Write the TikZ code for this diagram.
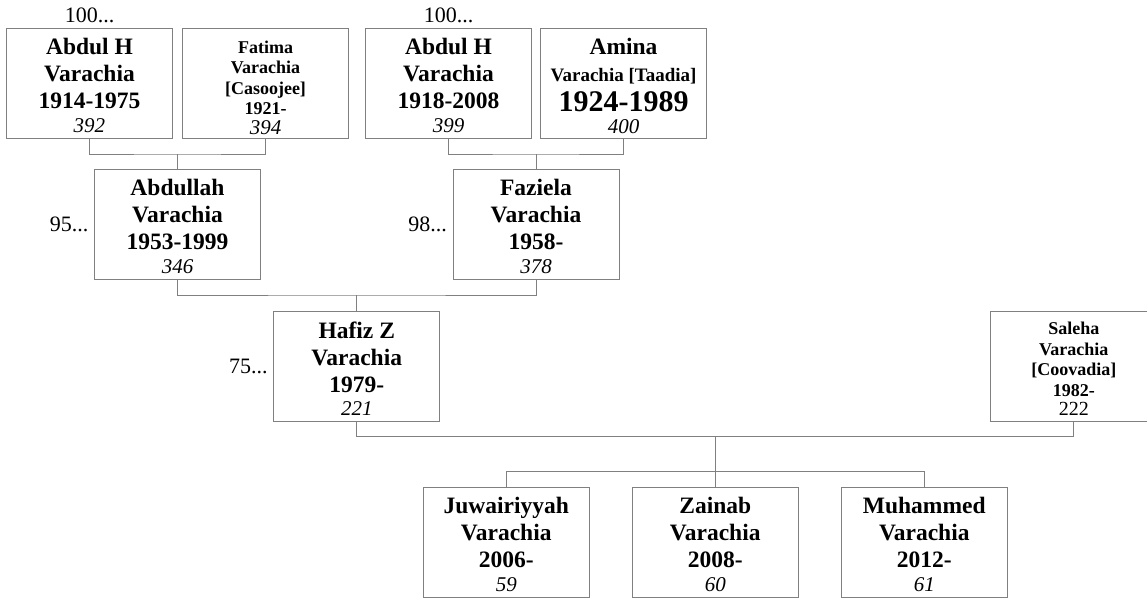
\documentclass[tikz,border=0pt]{standalone}
\usepackage{fontspec}
\setmainfont{Liberation Serif}
\usepackage{tikz}
\usetikzlibrary{positioning, calc}

\newcommand{\idno}[1]{{\fontsize{21}{24}\selectfont\mdseries\itshape #1}}
\newcommand{\topgap}[1]{\rule{0pt}{#1}}

\begin{document}
\begin{tikzpicture}[x=1pt, y=1pt,
  person/.style={rectangle, draw=gray, line width=1pt, outer sep=0pt, minimum width=166pt, minimum height=110pt,
    inner sep=2pt, align=center, font=\fontsize{23.5}{27}\selectfont\bfseries},
  personsm/.style={person, font=\fontsize{18}{20.5}\selectfont\bfseries},
  link/.style={draw=gray, line width=1pt},
  gen/.style={inner sep=2pt, font=\fontsize{22}{24}\selectfont}]

\useasboundingbox (0,0) rectangle (1147,-598);

% Define nodes: grandparents
\node[person] (abdulh1) at (89.5,-83) {\topgap{22pt}Abdul H\\Varachia\\1914-1975\\[-3pt]\idno{392}};
\node[personsm, right=10pt of abdulh1] (fatima) {\topgap{22pt}Fatima\\Varachia\\{[Casoojee]}\\1921-\\[-1pt]\idno{394}};
\node[person, right=17pt of fatima] (abdulh2) {\topgap{22pt}Abdul H\\Varachia\\1918-2008\\[-3pt]\idno{399}};
\node[person, right=9pt of abdulh2] (amina) {\topgap{22pt}Amina\\{\fontsize{19}{20}\selectfont Varachia [Taadia]}\\[3pt]{\fontsize{30}{30}\selectfont 1924-1989}\\[-5pt]\idno{400}};

% Parents
\coordinate (m1) at ($(abdulh1.south)!0.5!(fatima.south)$);
\coordinate (m2) at ($(abdulh2.south)!0.5!(amina.south)$);
\node[person, below=31pt of m1] (abdullah) {\topgap{22pt}Abdullah\\Varachia\\1953-1999\\[-3pt]\idno{346}};
\node[person, below=31pt of m2] (faziela) {\topgap{22pt}Faziela\\Varachia\\1958-\\[-3pt]\idno{378}};

% Couple
\coordinate (m3) at ($(abdullah.south)!0.5!(faziela.south)$);
\node[person, below=32pt of m3] (hafiz) {\topgap{22pt}Hafiz Z\\Varachia\\1979-\\[-4pt]\idno{221}};
\node[personsm, right=551pt of hafiz] (saleha) {\topgap{18pt}Saleha\\Varachia\\{[Coovadia]}\\1982-\\[-1pt]{\fontsize{20}{24}\selectfont\mdseries 222}};

% Children
\coordinate (m4) at ($(hafiz.south)!0.5!(saleha.south)$);
\node[person, below=66pt of m4] (zainab) {\topgap{22pt}Zainab\\Varachia\\2008-\\[-3pt]\idno{60}};
\node[person, left=43pt of zainab] (juwairiyyah) {\topgap{22pt}Juwairiyyah\\Varachia\\2006-\\[-3pt]\idno{59}};
\node[person, right=43pt of zainab] (muhammed) {\topgap{22pt}Muhammed\\Varachia\\2012-\\[-3pt]\idno{61}};

% Generation numbers
\node[gen, above=3pt of abdulh1] (g1) {100...};
\node[gen, above=3pt of abdulh2] (g2) {100...};
\node[gen, left=4pt of abdullah] (g3) {95...};
\node[gen, left=4pt of faziela] (g4) {98...};
\node[gen, left=4pt of hafiz] (g5) {75...};

% Draw family links
\coordinate (j1) at ($(m1)+(0,-16)$);
\coordinate (j2) at ($(m2)+(0,-16)$);
\coordinate (j3) at ($(m3)+(0,-16)$);
\coordinate (j4) at ($(m4)+(0,-15)$);
\coordinate (j5) at ($(zainab.north)+(0,16)$);
\draw[link] (abdulh1.south) |- (j1) -| (fatima.south);
\draw[link] (j1) -- (abdullah.north);
\draw[link] (abdulh2.south) |- (j2) -| (amina.south);
\draw[link] (j2) -- (faziela.north);
\draw[link] (abdullah.south) |- (j3) -| (faziela.south);
\draw[link] (j3) -- (hafiz.north);
\draw[link] (hafiz.south) |- (j4) -| (saleha.south);
\draw[link] (j4) -- (zainab.north);
\draw[link] (juwairiyyah.north) |- (j5) -| (muhammed.north);

\end{tikzpicture}
\end{document}
